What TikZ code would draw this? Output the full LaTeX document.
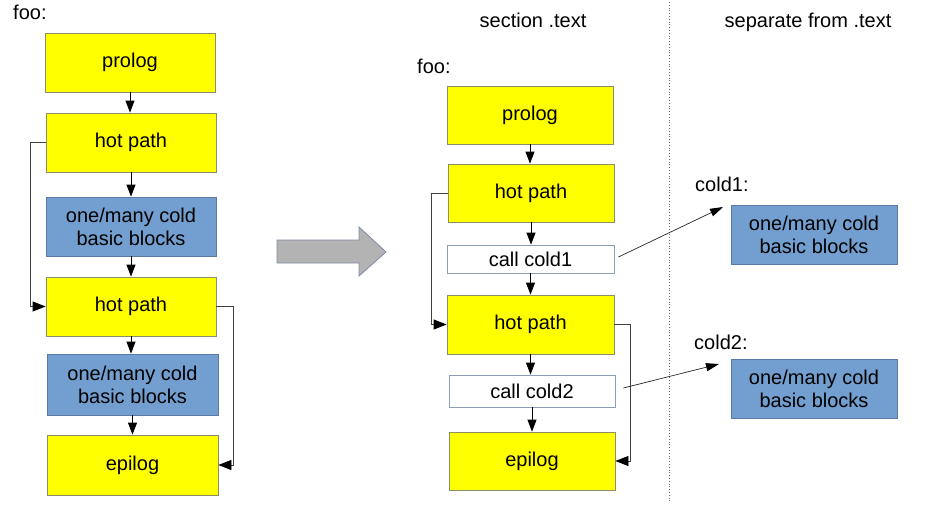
\documentclass[tikz,border=0pt]{standalone}
\usepackage{fontspec}
\setmainfont{Liberation Sans}
\usetikzlibrary{arrows.meta}
\definecolor{hotyellow}{HTML}{FFFF00}
\definecolor{coldblue}{HTML}{729FCF}
\definecolor{boxborder}{HTML}{8A8F6A}
\definecolor{blueborder}{HTML}{5A7BA6}
\definecolor{callborder}{HTML}{8C9DB5}
\definecolor{bigarrowfill}{HTML}{B3B3B3}
\definecolor{bigarrowdraw}{HTML}{7D8AA3}
\tikzset{
  every node/.style={font=\fontsize{20}{23}\selectfont, inner sep=0pt, align=center},
  hotbox/.style={draw=boxborder, fill=hotyellow, line width=0.8pt, minimum width=170pt, minimum height=59pt},
  coldbox/.style={draw=blueborder, fill=coldblue, line width=0.8pt, minimum width=170pt, minimum height=59pt},
  callbox/.style={draw=callborder, fill=white, line width=0.8pt, minimum width=166pt, minimum height=29pt},
  lbl/.style={anchor=base west},
  arr/.style={draw=black, line width=0.8pt, -{Triangle[length=12pt,width=9pt]}},
  loopline/.style={draw=black!75, line width=0.8pt, -{Triangle[length=13pt,width=10pt,fill=black,color=black]}},
  farr/.style={draw=black!85, line width=0.7pt, -{Triangle[length=13pt,width=8pt,fill=black,color=black]}}
}
\begin{document}
\begin{tikzpicture}[x=1pt,y=-1pt]
\useasboundingbox (0,0) rectangle (933,511);
% ---------- left column ----------
\node[lbl] (fooL) at (13,20) {foo:};
\node[hotbox] (prolog) at (130,62.5) {prolog};
\node[hotbox] (hot1) at (131,142.5) {hot path};
\node[coldbox] (cold1L) at (131,226.5) {one/many cold\\basic blocks};
\node[hotbox] (hot2) at (131,306.5) {hot path};
\node[coldbox, minimum width=171pt, minimum height=61pt] (cold2L) at (132.5,384.5) {one/many cold\\basic blocks};
\node[hotbox, minimum width=171pt, minimum height=60pt] (epilog) at (132.5,465) {epilog};
\draw[arr] (prolog.south) -- (prolog.south |- hot1.north);
\draw[arr] (hot1.south) -- (hot1.south |- cold1L.north);
\draw[arr] (cold1L.south) -- (cold1L.south |- hot2.north);
\draw[arr] (hot2.south) -- (hot2.south |- cold2L.north);
\draw[arr] (cold2L.south) -- (cold2L.south |- epilog.north);
\draw[loopline] (hot1.west) -- ++(-15,0) |- (hot2.west);
\draw[loopline] (hot2.east) -- ++(17,0) |- (epilog.east);
% ---------- big arrow ----------
\draw[fill=bigarrowfill, draw=bigarrowdraw, line width=0.8pt]
  (277,240) -- (359,240) -- (359,227) -- (386,252) -- (359,276) -- (359,263) -- (277,263) -- cycle;
% ---------- headers ----------
\node[anchor=base] (sect) at (533,28) {section .text};
\node[anchor=base] (sep) at (808,28) {separate from .text};
\draw[black!60, line width=0.8pt, dotted] (669,2) -- (669,503);
% ---------- right column ----------
\node[lbl] (fooR) at (417,73) {foo:};
\node[hotbox, minimum width=166pt, minimum height=58pt] (prologR) at (530,115) {prolog};
\node[hotbox, minimum width=166pt, minimum height=58pt] (hotR1) at (531,193) {hot path};
\node[callbox, minimum width=167pt, minimum height=28pt] (call1) at (530.5,259) {call cold1};
\node[hotbox, minimum width=167pt] (hotR2) at (530.5,324.5) {hot path};
\node[callbox, minimum height=32pt] (call2) at (532,391) {call cold2};
\node[hotbox, minimum width=166pt, minimum height=58pt] (epilogR) at (532,461) {epilog};
\draw[arr] (prologR.south) -- (prologR.south |- hotR1.north);
\draw[arr] (hotR1.south) -- (hotR1.south |- call1.north);
\draw[arr] (call1.south) -- (call1.south |- hotR2.north);
\draw[arr] (hotR2.south) -- (hotR2.south |- call2.north);
\draw[arr] (call2.south) -- (call2.south |- epilogR.north);
\draw[loopline] (hotR1.west) -- ++(-16,0) |- (hotR2.west);
\draw[loopline] (hotR2.east) -- ++(16,0) |- (epilogR.east);
% ---------- separate section ----------
\node[lbl] (c1lbl) at (695,191) {cold1:};
\node[coldbox, minimum width=166pt] (coldA) at (814,234.5) {one/many cold\\basic blocks};
\node[lbl] (c2lbl) at (694,349) {cold2:};
\node[coldbox, minimum width=166pt] (coldB) at (814,388.5) {one/many cold\\basic blocks};
\coordinate (tip1) at (723,207);
\coordinate (tip2) at (719,364);
\draw[farr] ([xshift=4pt,yshift=2pt]call1.east) -- (tip1);
\draw[farr] ([xshift=8pt,yshift=3pt]call2.east) -- (tip2);
\end{tikzpicture}
\end{document}
